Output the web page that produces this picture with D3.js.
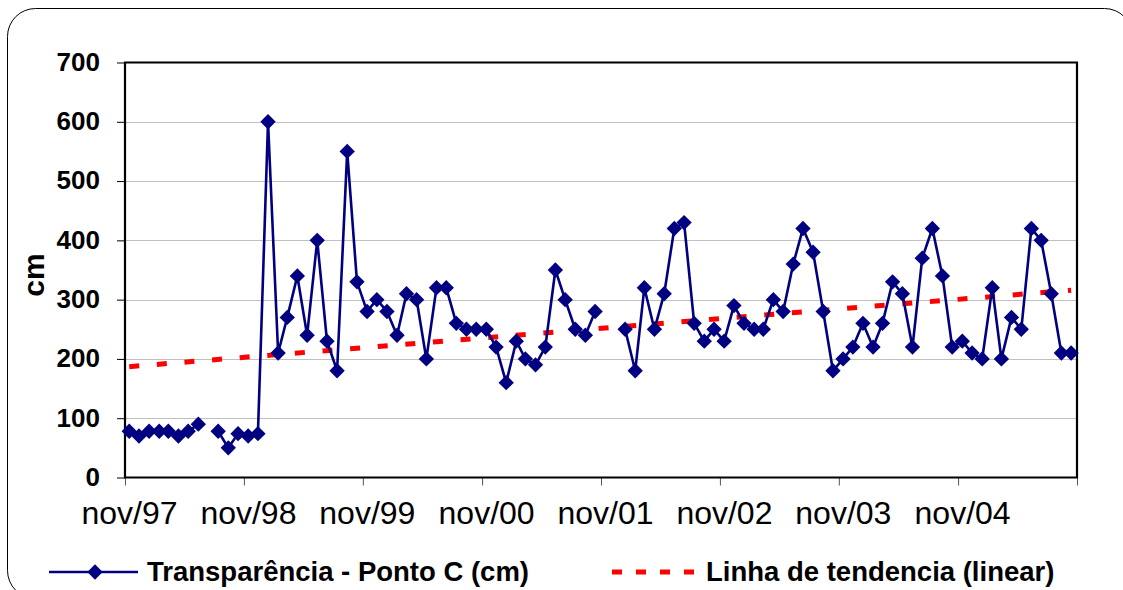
<!DOCTYPE html>
<html>
<head>
<meta charset="utf-8">
<script src="https://cdn.jsdelivr.net/npm/d3@7"></script>
<style>
  html, body { margin: 0; padding: 0; background: #fff; }
  svg { display: block; font-family: "Liberation Sans", Arial, sans-serif; }
</style>
</head>
<body>
<svg id="chart" width="1123" height="590"></svg>
<script>
// Monthly Secchi transparency readings at Ponto C, nov/97 .. oct/05 (null = no sampling)
const firstSample = new Date(1997, 10, 14);
const transparencia = [
  78, 70, 78, 78, 78, 70, 78, 90, null, 78, 50, 74,          // nov/97 - oct/98
  70, 74, 600, 210, 270, 340, 240, 400, 230, 180, 550, 330,  // nov/98 - oct/99
  280, 300, 280, 240, 310, 300, 200, 320, 320, 260, 250, 250,// nov/99 - oct/00
  250, 220, 160, 230, 200, 190, 220, 350, 300, 250, 240, 280,// nov/00 - oct/01
  null, null, 250, 180, 320, 250, 310, 420, 430, 260, 230, 250, // nov/01 - oct/02
  230, 290, 260, 250, 250, 300, 280, 360, 420, 380, 280, 180,// nov/02 - oct/03
  200, 220, 260, 220, 260, 330, 310, 220, 370, 420, 340, 220,// nov/03 - oct/04
  230, 210, 200, 320, 200, 270, 250, 420, 400, 310, 210, 210 // nov/04 - oct/05
];
// Linear trend line end values (cm)
const tendencia = [187, 316];

const yTicks = [0, 100, 200, 300, 400, 500, 600, 700];
const xTickLabels = ["nov/97", "nov/98", "nov/99", "nov/00", "nov/01", "nov/02", "nov/03", "nov/04"];
const legendLabels = ["Transparência - Ponto C (cm)", "Linha de tendencia (linear)"];

const navy = "#000080";
const red = "#ff0000";

const svg = d3.select("#chart");

// outer rounded frame
svg.append("rect")
  .attr("x", 7.5).attr("y", 8.5)
  .attr("width", 1125).attr("height", 590)
  .attr("rx", 28).attr("ry", 28)
  .attr("fill", "#fff").attr("stroke", "#000").attr("stroke-width", 1);

const plot = { left: 125, right: 1077, top: 62.5, bottom: 477.5 };

const x = d3.scaleTime()
  .domain([new Date(1997, 10, 1), new Date(2005, 10, 1)])
  .range([plot.left, plot.right]);
const y = d3.scaleLinear().domain([0, 700]).range([plot.bottom, plot.top]);

const data = transparencia.map((v, i) => ({ date: d3.timeMonth.offset(firstSample, i), value: v }));

// horizontal gridlines
svg.append("g")
  .selectAll("line")
  .data(yTicks.filter(t => t > 0 && t < 700))
  .join("line")
  .attr("x1", plot.left).attr("x2", plot.right)
  .attr("y1", d => Math.round(y(d)) + 0.5).attr("y2", d => Math.round(y(d)) + 0.5)
  .attr("stroke", "#c0c0c0").attr("stroke-width", 1);

// y axis
const yAxis = svg.append("g")
  .attr("transform", `translate(${plot.left},0)`)
  .call(d3.axisLeft(y).tickValues(yTicks).tickSize(8).tickPadding(17).tickFormat(d3.format("d")));
yAxis.select(".domain").remove();
yAxis.selectAll(".tick line").attr("stroke", "#000").attr("stroke-width", 1);
yAxis.selectAll(".tick text")
  .attr("font-size", 26).attr("font-weight", "bold").attr("fill", "#000")
  .attr("font-family", "Liberation Sans, Arial, sans-serif").attr("dy", "0.3em");

// x axis
const xTickDates = xTickLabels.map((_, i) => d3.timeYear.offset(new Date(1997, 10, 1), i)).concat([new Date(2005, 10, 1)]);
const xAxis = svg.append("g")
  .attr("transform", `translate(0,${plot.bottom})`)
  .call(d3.axisBottom(x).tickValues(xTickDates).tickSize(8).tickPadding(16)
    .tickFormat((d, i) => xTickLabels[i] || ""));
xAxis.select(".domain").remove();
xAxis.selectAll(".tick line").attr("stroke", "#555").attr("stroke-width", 1);
xAxis.selectAll(".tick text")
  .attr("font-size", 32).attr("fill", "#000")
  .attr("font-family", "Liberation Sans, Arial, sans-serif")
  .attr("dx", 4);

// plot frame
svg.append("path")
  .attr("d", `M${plot.left},${plot.bottom}V${plot.top}H${plot.right}V${plot.bottom}Z`)
  .attr("fill", "none").attr("stroke", "#000").attr("stroke-width", 2.2);

// y axis title
svg.append("text")
  .attr("transform", "translate(44,275) rotate(-90)")
  .attr("text-anchor", "middle")
  .attr("font-size", 30).attr("font-weight", "bold")
  .text("cm");

// trend line
const firstDate = data[0].date, lastDate = data[data.length - 1].date;
svg.append("line")
  .attr("x1", x(firstDate)).attr("y1", y(tendencia[0]))
  .attr("x2", x(lastDate)).attr("y2", y(tendencia[1]))
  .attr("stroke", red).attr("stroke-width", 5)
  .attr("stroke-dasharray", "10 17.7");

// data line with gaps
const line = d3.line()
  .defined(d => d.value !== null)
  .x(d => x(d.date)).y(d => y(d.value));
svg.append("path")
  .datum(data)
  .attr("d", line)
  .attr("fill", "none").attr("stroke", navy).attr("stroke-width", 2.6);

const diamond = d3.symbol().type(d3.symbolDiamond2).size(150);
svg.append("g")
  .selectAll("path")
  .data(data.filter(d => d.value !== null))
  .join("path")
  .attr("transform", d => `translate(${x(d.date)},${y(d.value)})`)
  .attr("d", diamond)
  .attr("fill", navy);

// legend
const leg = svg.append("g");
leg.append("line").attr("x1", 49).attr("x2", 138).attr("y1", 572).attr("y2", 572)
  .attr("stroke", navy).attr("stroke-width", 2.6);
leg.append("path").attr("transform", "translate(95,572)").attr("d", diamond).attr("fill", navy);
leg.append("text").attr("x", 147).attr("y", 581)
  .attr("font-size", 27.5).attr("font-weight", "bold").text(legendLabels[0]);
leg.append("line").attr("x1", 612).attr("x2", 700).attr("y1", 572).attr("y2", 572)
  .attr("stroke", red).attr("stroke-width", 5).attr("stroke-dasharray", "10 14");
leg.append("text").attr("x", 706).attr("y", 581)
  .attr("font-size", 27.5).attr("font-weight", "bold").text(legendLabels[1]);
</script>
</body>
</html>
